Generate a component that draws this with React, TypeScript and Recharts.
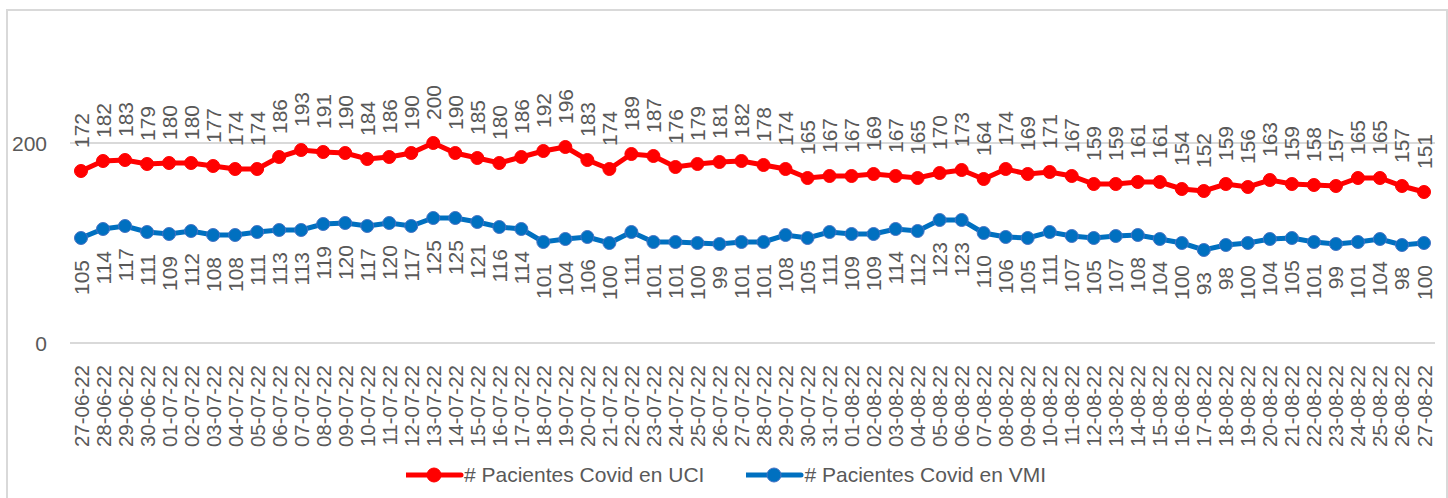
import { LineChart, Line, XAxis, YAxis, CartesianGrid, LabelList } from 'recharts';

const fechas = [
  '27-06-22', '28-06-22', '29-06-22', '30-06-22',
  '01-07-22', '02-07-22', '03-07-22', '04-07-22', '05-07-22', '06-07-22', '07-07-22', '08-07-22',
  '09-07-22', '10-07-22', '11-07-22', '12-07-22', '13-07-22', '14-07-22', '15-07-22', '16-07-22',
  '17-07-22', '18-07-22', '19-07-22', '20-07-22', '21-07-22', '22-07-22', '23-07-22', '24-07-22',
  '25-07-22', '26-07-22', '27-07-22', '28-07-22', '29-07-22', '30-07-22', '31-07-22',
  '01-08-22', '02-08-22', '03-08-22', '04-08-22', '05-08-22', '06-08-22', '07-08-22', '08-08-22',
  '09-08-22', '10-08-22', '11-08-22', '12-08-22', '13-08-22', '14-08-22', '15-08-22', '16-08-22',
  '17-08-22', '18-08-22', '19-08-22', '20-08-22', '21-08-22', '22-08-22', '23-08-22', '24-08-22',
  '25-08-22', '26-08-22', '27-08-22',
];

const uci = [
  172, 182, 183, 179, 180, 180, 177, 174, 174, 186,
  193, 191, 190, 184, 186, 190, 200, 190, 185, 180,
  186, 192, 196, 183, 174, 189, 187, 176, 179, 181,
  182, 178, 174, 165, 167, 167, 169, 167, 165, 170,
  173, 164, 174, 169, 171, 167, 159, 159, 161, 161,
  154, 152, 159, 156, 163, 159, 158, 157, 165, 165,
  157, 151,
];

const vmi = [
  105, 114, 117, 111, 109, 112, 108, 108, 111, 113,
  113, 119, 120, 117, 120, 117, 125, 125, 121, 116,
  114, 101, 104, 106, 100, 111, 101, 101, 100, 99,
  101, 101, 108, 105, 111, 109, 109, 114, 112, 123,
  123, 110, 106, 105, 111, 107, 105, 107, 108, 104,
  100, 93, 98, 100, 104, 105, 101, 99, 101, 104,
  98, 100,
];

const yTicks = [0, 200];

const data = fechas.map((f, i) => ({ fecha: f, uci: uci[i], vmi: vmi[i] }));

const FONT = '"Liberation Sans", Arial, sans-serif';
const GRIS = '#595959';
const ROJO = '#FF0000';
const AZUL = '#0070C0';

function labelArriba(props: any) {
  const { x, y, value } = props;
  const ty = y - 23;
  return (
    <text
      x={x}
      y={ty}
      transform={`rotate(-90, ${x}, ${ty})`}
      textAnchor="start"
      dominantBaseline="central"
      fill={GRIS}
      fontSize={21}
      fontFamily={FONT}
    >
      {value}
    </text>
  );
}

function labelAbajo(props: any) {
  const { x, y, value } = props;
  const ty = y + 22;
  return (
    <text
      x={x}
      y={ty}
      transform={`rotate(-90, ${x}, ${ty})`}
      textAnchor="end"
      dominantBaseline="central"
      fill={GRIS}
      fontSize={21}
      fontFamily={FONT}
    >
      {value}
    </text>
  );
}

function TickFecha(props: any) {
  const { x, y, payload } = props;
  const ty = y + 14;
  return (
    <text
      x={x}
      y={ty}
      transform={`rotate(-90, ${x}, ${ty})`}
      textAnchor="end"
      dominantBaseline="central"
      fill={GRIS}
      fontSize={20.5}
      fontFamily={FONT}
    >
      {payload.value}
    </text>
  );
}

function TickY(props: any) {
  const { y, payload } = props;
  return (
    <text x={47} y={y} textAnchor="end" dominantBaseline="central" fill={GRIS} fontSize={21} fontFamily={FONT}>
      {payload.value}
    </text>
  );
}

function Leyenda() {
  const item = (color: string, borde: string, texto: string) => (
    <div style={{ display: 'flex', alignItems: 'center' }}>
      <svg width={58} height={18}>
        <line x1={0} y1={9} x2={55} y2={9} stroke={color} strokeWidth={5} strokeLinecap="round" />
        <circle cx={28} cy={9} r={7} fill={color} stroke={borde} strokeWidth={1} />
      </svg>
      <span style={{ fontFamily: FONT, fontSize: 21, color: GRIS, lineHeight: '24px' }}>{texto}</span>
    </div>
  );
  return (
    <div
      style={{
        position: 'absolute',
        left: 406,
        top: 463,
        display: 'flex',
        gap: 42,
      }}
    >
      {item(ROJO, ROJO, '# Pacientes Covid en UCI')}
      {item(AZUL, '#4472C4', '# Pacientes Covid en VMI')}
    </div>
  );
}

export default function App() {
  return (
    <div style={{ position: 'absolute', left: 0, top: 0, width: 1448, height: 498, background: '#fff', overflow: 'hidden' }}>
      <div
        style={{
          position: 'absolute',
          left: 6,
          top: 9,
          width: 1438,
          height: 520,
          border: '2px solid #D9D9D9',
        }}
      />
      <div style={{ position: 'absolute', left: 0, top: 0 }}>
        <LineChart width={1448} height={498} data={data} margin={{ top: 43, right: 13, left: 0, bottom: 0 }}>
          <CartesianGrid vertical={false} horizontalValues={yTicks} stroke="#D9D9D9" strokeWidth={2} />
          <XAxis
            dataKey="fecha"
            interval={0}
            tick={<TickFecha />}
            tickLine={false}
            axisLine={{ stroke: '#D9D9D9', strokeWidth: 2 }}
            padding={{ left: 11, right: 11 }}
            height={155}
          />
          <YAxis
            width={70}
            domain={[0, 300]}
            ticks={yTicks}
            tick={<TickY />}
            tickLine={false}
            axisLine={false}
          />
          <Line
            dataKey="uci"
            name="# Pacientes Covid en UCI"
            stroke={ROJO}
            strokeWidth={5}
            dot={{ r: 6.5, fill: ROJO, stroke: ROJO, strokeWidth: 1 }}
            isAnimationActive={false}
          >
            <LabelList dataKey="uci" content={labelArriba} />
          </Line>
          <Line
            dataKey="vmi"
            name="# Pacientes Covid en VMI"
            stroke={AZUL}
            strokeWidth={5}
            dot={{ r: 6.5, fill: AZUL, stroke: '#4472C4', strokeWidth: 1 }}
            isAnimationActive={false}
          >
            <LabelList dataKey="vmi" content={labelAbajo} />
          </Line>
        </LineChart>
      </div>
      <Leyenda />
    </div>
  );
}
